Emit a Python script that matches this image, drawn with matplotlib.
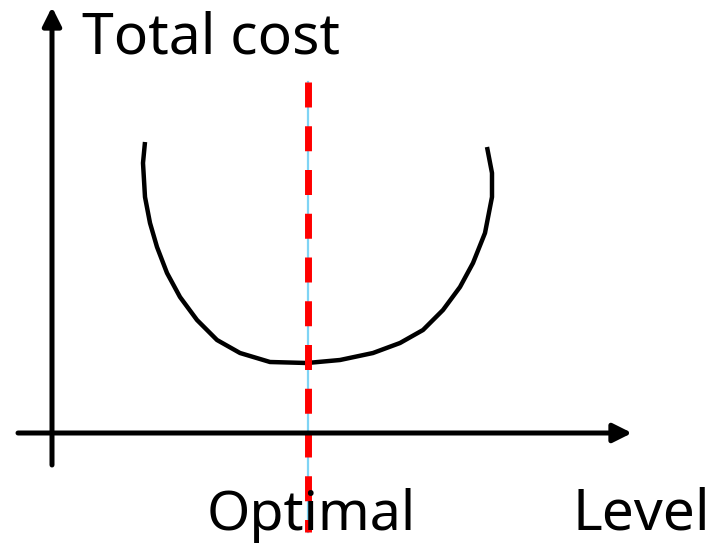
import numpy as np
import matplotlib.pyplot as plt

# U-shaped total cost curve (level, cost), origin at the axes crossing
level = np.array([93, 91, 93, 98, 105, 115, 128, 145, 165, 188, 218, 255,
                  288, 321, 348, 371, 391, 408, 421, 433, 440, 440, 435])
cost = np.array([291, 270, 236, 210, 186, 160, 136, 113, 93, 80, 71, 70,
                 73, 80, 90, 103, 123, 146, 170, 200, 236, 260, 286])

optimal_level = 256
labels = {'y': 'Total cost', 'x': 'Level', 'opt': 'Optimal'}

fig = plt.figure(figsize=(7.22, 5.46), dpi=100)
ax = fig.add_axes([0, 0, 1, 1])
ax.set_xlim(-52, 670)
ax.set_ylim(-113, 433)
ax.axis('off')

# axes with arrow heads
arrow = dict(arrowstyle='-|>,head_length=0.8,head_width=0.4', lw=3.6, color='black',
             shrinkA=0, shrinkB=0, mutation_scale=14)
ax.annotate('', xy=(0, 426), xytext=(0, -32), arrowprops=arrow)
ax.annotate('', xy=(580, 0), xytext=(-34, 0), arrowprops=arrow)

# cost curve
ax.plot(level, cost, color='black', lw=3.2, solid_capstyle='butt', solid_joinstyle='round')

# optimal level marker
ax.plot([optimal_level, optimal_level], [351, -99], color='#7fd4f5', lw=1.6)
ax.plot([optimal_level, optimal_level], [351, -99], color='red', lw=5,
        linestyle=(0, (3.6, 2.7)))

font = ['Noto Sans', 'DejaVu Sans']
ax.text(30, 380, labels['y'], fontsize=41, family=font, va='baseline', ha='left')
ax.text(155, -97, labels['opt'], fontsize=40, family=font, va='baseline', ha='left')
ax.text(520, -97, labels['x'], fontsize=41, family=font, va='baseline', ha='left')

fig.savefig('out.png', dpi=100)
